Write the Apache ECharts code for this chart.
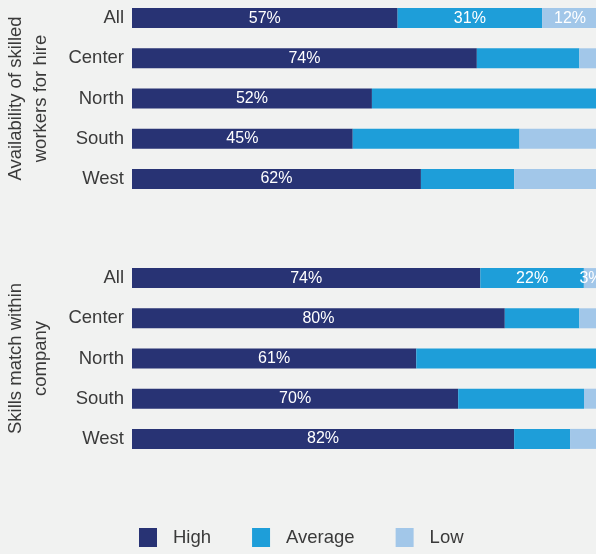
<!DOCTYPE html>
<html>
<head>
<meta charset="utf-8">
<script src="https://cdn.jsdelivr.net/npm/echarts@6/dist/echarts.min.js"></script>
<style>
    html, body { margin: 0; padding: 0; background: #f1f2f1; }
    #main { width: 596px; height: 554px; }
</style>
</head>
<body>
<div id="main"></div>
<script>
// data
var regions = ['All', 'Center', 'North', 'South', 'West'];
var groupNames = ['Availability of skilled\nworkers for hire', 'Skills match within\ncompany'];
var levels = ['High', 'Average', 'Low'];

// Availability of skilled workers for hire (%)
var availHigh = [57, 74, 52, 45, 62];
var availAverage = [31, 22, 49, 34, 20];
var availLow = [12, 4, 0, 16, 18];

// Skills match within company (%)
var skillsHigh = [74, 80, 61, 70, 82];
var skillsAverage = [22, 16, 39, 27, 12];
var skillsLow = [3, 4, 0, 3, 6];

(function() {
    var myChart = echarts.init(document.getElementById('main'));

    var colors = ['#283374', '#1e9ed9', '#a2c7e9'];
    var font = 'Liberation Sans, Arial, sans-serif';
    var groups = [
        [availHigh, availAverage, availLow],
        [skillsHigh, skillsAverage, skillsLow]
    ];

    var grids = [], xAxes = [], yAxes = [], series = [];

    groups.forEach(function(g, gi) {
        grids.push({
            left: 132, right: -2, top: gi === 0 ? -2 : 258, height: 201,
            outerBoundsMode: 'none', containLabel: false
        });
        xAxes.push({
            gridIndex: gi, type: 'value', min: 0, max: 100, show: false
        });
        yAxes.push({
            gridIndex: gi,
            type: 'category',
            data: regions,
            inverse: true,
            axisLine: { show: false },
            axisTick: { show: false },
            axisLabel: { color: '#3a3a3a', fontSize: 18.5, fontFamily: font, margin: 8 },
            name: groupNames[gi],
            nameLocation: 'middle',
            nameRotate: 90,
            nameGap: 79,
            nameTextStyle: { color: '#3a3a3a', fontSize: 18.5, fontFamily: font, lineHeight: 24.5 }
        });

        // 每一行归一化到 100%
        var totals = regions.map(function(r, i) {
            return g[0][i] + g[1][i] + g[2][i];
        });

        g.forEach(function(vals, li) {
            series.push({
                name: levels[li],
                type: 'bar',
                stack: 'g' + gi,
                xAxisIndex: gi,
                yAxisIndex: gi,
                barWidth: 20,
                itemStyle: { color: colors[li] },
                label: {
                    color: '#fff',
                    fontSize: 16,
                    fontFamily: font,
                    position: 'inside',
                    formatter: function(p) {
                        return vals[p.dataIndex] + '%';
                    }
                },
                data: vals.map(function(v, i) {
                    return {
                        value: v / totals[i] * 100,
                        label: { show: v > 0 && (li === 0 || i === 0) }
                    };
                })
            });
        });
    });

    var option = {
        backgroundColor: '#f1f2f1',
        animation: false,
        legend: {
            data: levels,
            left: 134,
            top: 523,
            itemWidth: 18,
            itemHeight: 19,
            itemGap: 41,
            icon: 'rect',
            textStyle: { color: '#3a3a3a', fontSize: 18.5, fontFamily: font, padding: [0, 0, 0, 11] }
        },
        grid: grids,
        xAxis: xAxes,
        yAxis: yAxes,
        series: series
    };

    myChart.setOption(option);
})();
</script>
</body>
</html>
